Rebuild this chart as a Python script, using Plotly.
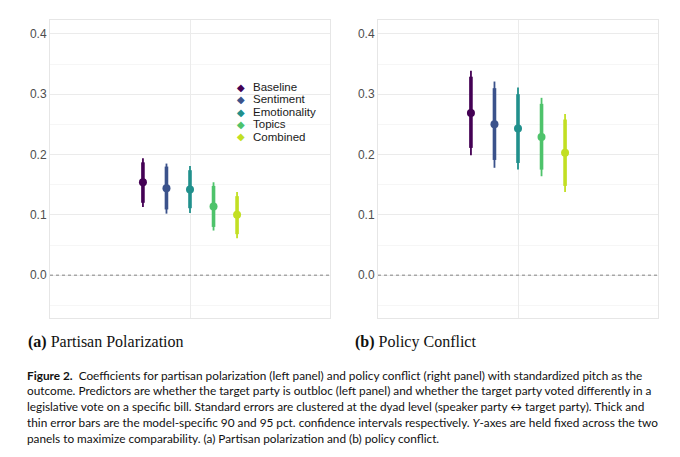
import plotly.graph_objects as go

W, H = 680, 457
OFF = 8  # page body margin

models = ["Baseline", "Sentiment", "Emotionality", "Topics", "Combined"]
colors = ["#440154", "#3B528B", "#21908C", "#4EC36B", "#C2DF23"]
offsets = [-2, -1, 0, 1, 2]

# (a) partisan polarization
pol_est = [0.154, 0.144, 0.142, 0.114, 0.100]
pol_lo90 = [0.120, 0.109, 0.111, 0.080, 0.068]
pol_hi90 = [0.187, 0.180, 0.174, 0.148, 0.131]
pol_lo95 = [0.113, 0.102, 0.103, 0.074, 0.061]
pol_hi95 = [0.194, 0.185, 0.181, 0.154, 0.138]

# (b) policy conflict
con_est = [0.269, 0.250, 0.243, 0.229, 0.203]
con_lo90 = [0.211, 0.191, 0.186, 0.175, 0.148]
con_hi90 = [0.329, 0.310, 0.300, 0.284, 0.258]
con_lo95 = [0.199, 0.178, 0.175, 0.164, 0.138]
con_hi95 = [0.339, 0.321, 0.311, 0.294, 0.267]

yticks = [0.0, 0.1, 0.2, 0.3, 0.4]


def px(x):
    return (x - OFF) / W


def py(y):
    return 1 - (y - OFF) / H


fig = go.Figure()


def add_panel(xa, ya, est, lo90, hi90, lo95, hi95):
    for i, m in enumerate(models):
        c = colors[i]
        # thin 95% bar
        fig.add_trace(go.Scatter(
            x=[offsets[i]], y=[est[i]], mode="markers", xaxis=xa, yaxis=ya,
            marker=dict(size=1, color="rgba(0,0,0,0)"), showlegend=False, hoverinfo="skip",
            error_y=dict(type="data", symmetric=False, array=[hi95[i] - est[i]],
                         arrayminus=[est[i] - lo95[i]], color=c, thickness=1.8, width=0)))
        # thick 90% bar
        fig.add_trace(go.Scatter(
            x=[offsets[i]], y=[est[i]], mode="markers", xaxis=xa, yaxis=ya,
            marker=dict(size=1, color="rgba(0,0,0,0)"), showlegend=False, hoverinfo="skip",
            error_y=dict(type="data", symmetric=False, array=[hi90[i] - est[i]],
                         arrayminus=[est[i] - lo90[i]], color=c, thickness=3.6, width=0)))
        fig.add_trace(go.Scatter(
            x=[offsets[i]], y=[est[i]], mode="markers", xaxis=xa, yaxis=ya, name=m,
            marker=dict(size=8, color=c), showlegend=False))


add_panel("x", "y", pol_est, pol_lo90, pol_hi90, pol_lo95, pol_hi95)
add_panel("x2", "y2", con_est, con_lo90, con_hi90, con_lo95, con_hi95)

xax = dict(range=[-5.95, 5.95], tickvals=[0], showticklabels=False, ticks="",
           showgrid=True, gridcolor="#ebebeb", gridwidth=1, zeroline=False,
           showline=True, linecolor="#e6e6e6", linewidth=1, mirror=True)
yax = dict(range=[-0.071, 0.423], tickvals=yticks, ticktext=[f"{v:.1f}" for v in yticks],
           showgrid=True, gridcolor="#ebebeb", gridwidth=1, zeroline=False,
           minor=dict(dtick=0.05, tick0=0.05, showgrid=True, gridcolor="#f6f6f6", gridwidth=1),
           showline=True, linecolor="#e6e6e6", linewidth=1, mirror=True, ticks="",
           tickfont=dict(family="Liberation Sans", size=12, color="#4d4d4d"))

fig.update_layout(
    width=W, height=H, margin=dict(l=0, r=0, t=0, b=0),
    paper_bgcolor="white", plot_bgcolor="white", showlegend=False,
    xaxis=dict(domain=[px(50), px(330)], **xax),
    xaxis2=dict(domain=[px(378), px(658)], anchor="y2", **xax),
    yaxis=dict(domain=[py(318), py(20)], anchor="x", **yax),
    yaxis2=dict(domain=[py(318), py(20)], anchor="x2", **yax),
)

# dashed zero lines
for xr, yr in [("x domain", "y"), ("x2 domain", "y2")]:
    fig.add_shape(type="line", xref=xr, yref=yr, x0=0, x1=1, y0=0, y1=0,
                  line=dict(color="#777777", width=0.9, dash="3px,3px"))

# legend (drawn with annotations for compact spacing)
for i, m in enumerate(models):
    yy = py(87 + i * 12.5)
    fig.add_annotation(x=px(241), y=yy, xref="paper", yref="paper", text="\u25c6",
                       showarrow=False, xanchor="center", yanchor="middle",
                       font=dict(family="DejaVu Sans", size=10, color=colors[i]))
    fig.add_annotation(x=px(251), y=yy, xref="paper", yref="paper", text=m,
                       showarrow=False, xanchor="left", yanchor="middle",
                       font=dict(family="Liberation Sans", size=11.5, color="#1a1a1a"))

# subfigure captions
fig.add_annotation(x=px(26), y=py(342), xref="paper", yref="paper",
                   text="<b>(a)</b> Partisan Polarization", showarrow=False,
                   xanchor="left", yanchor="middle",
                   font=dict(family="Liberation Serif", size=16, color="#111111"))
fig.add_annotation(x=px(353), y=py(342), xref="paper", yref="paper",
                   text="<b>(b)</b> Policy Conflict", showarrow=False,
                   xanchor="left", yanchor="middle",
                   font=dict(family="Liberation Serif", size=16, color="#111111"))

caption = [
    "<b>Figure 2.</b>  Coefficients for partisan polarization (left panel) and policy conflict (right panel) with standardized pitch as the",
    "outcome. Predictors are whether the target party is outbloc (left panel) and whether the target party voted differently in a",
    "legislative vote on a specific bill. Standard errors are clustered at the dyad level (speaker party \u2194 target party). Thick and",
    "thin error bars are the model-specific 90 and 95 pct. confidence intervals respectively. <i>Y</i>-axes are held fixed across the two",
    "panels to maximize comparability. (a) Partisan polarization and (b) policy conflict.",
]
for i, line in enumerate(caption):
    fig.add_annotation(x=px(25), y=py(375 + i * 15.8), xref="paper", yref="paper",
                       text=line, showarrow=False, xanchor="left", yanchor="middle",
                       font=dict(family="Lato", size=11.8, color="#111111"))

fig.write_html("out.html")
